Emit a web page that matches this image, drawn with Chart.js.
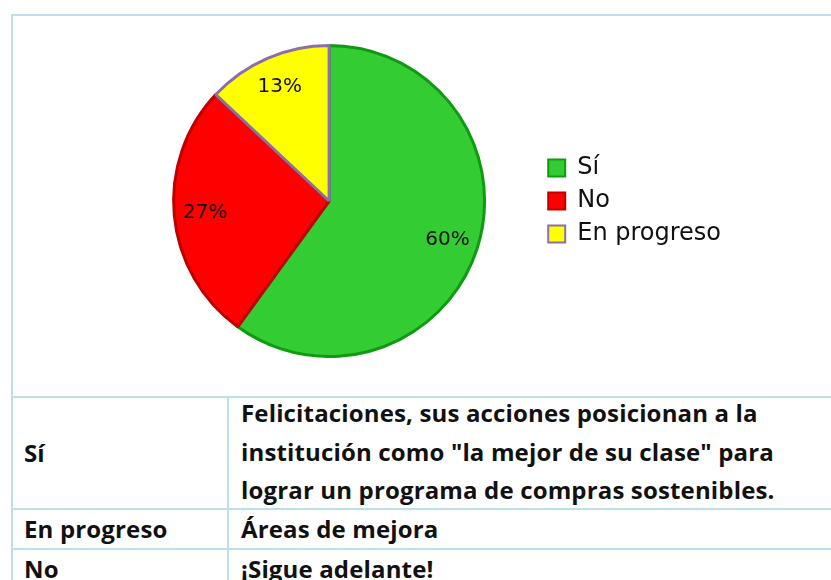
<!DOCTYPE html>
<html>
<head>
<meta charset="utf-8">
<script src="https://cdn.jsdelivr.net/npm/chart.js@4.4.0/dist/chart.umd.min.js"></script>
<style>
  body { margin: 0; background: #fff; width: 831px; height: 580px; overflow: hidden; position: relative; }
  table.grid { position: absolute; left: 11px; top: 14px; border-collapse: separate; border-spacing: 0;
    border-top: 2px solid #bcdfe9; border-left: 2px solid #bcdfe9; table-layout: fixed; width: 860px; }
  table.grid td { border-right: 2px solid #bcdfe9; border-bottom: 2px solid #bcdfe9; padding: 0 11px;
    font-family: "Open Sans", Arial, sans-serif; font-weight: bold; font-size: 24px; letter-spacing: 0.15px;
    color: #111; vertical-align: middle; line-height: 38px; overflow: visible; }
  .multi { height: 110px; position: relative; }
  .multi span { position: absolute; left: 0; top: -4px; line-height: 38.5px; white-space: nowrap; }
  #box { position: absolute; left: 119px; top: 44px; width: 612px; height: 314px; }
</style>
</head>
<body>
<table class="grid">
  <colgroup><col style="width:216px"><col></colgroup>
  <tr><td colspan="2" style="height:380px"></td></tr>
  <tr><td style="height:110px">Sí</td><td style="padding-left:12px"><div class="multi"><span>Felicitaciones, sus acciones posicionan a la<br>institución como "la mejor de su clase" para<br>lograr un programa de compras sostenibles.</span></div></td></tr>
  <tr><td style="height:38px">En progreso</td><td style="padding-left:12px">Áreas de mejora</td></tr>
  <tr><td style="height:38px">No</td><td style="padding-left:12px">¡Sigue adelante!</td></tr>
</table>
<div id="box"><canvas id="myChart"></canvas></div>
<script>
var categories = ['Sí', 'No', 'En progreso'];
var values = [60, 27, 13];
var fillColors = ['#33cc33', '#ff0000', '#ffff00'];
var lineColors = ['#119911', '#c00000', '#8b6fa8'];

var sliceLabels = {
  id: 'sliceLabels',
  afterDatasetsDraw: function(chart) {
    var ctx = chart.ctx;
    var meta = chart.getDatasetMeta(0);
    ctx.save();
    ctx.font = '20px "DejaVu Sans", sans-serif';
    ctx.fillStyle = '#111';
    ctx.textAlign = 'center';
    ctx.textBaseline = 'middle';
    meta.data.forEach(function(arc, i) {
      var p = arc.getProps(['x', 'y', 'startAngle', 'endAngle', 'outerRadius'], true);
      var mid = (p.startAngle + p.endAngle) / 2;
      var r = p.outerRadius * 0.8;
      ctx.fillText(values[i] + '%', p.x + Math.cos(mid) * r, p.y + Math.sin(mid) * r);
    });
    ctx.restore();
  }
};

var ctx = document.getElementById('myChart');
var myChart = new Chart(ctx, {
  type: 'pie',
  data: {
    labels: categories,
    datasets: [{
      data: values,
      backgroundColor: fillColors,
      borderColor: lineColors,
      borderWidth: 3
    }]
  },
  options: {
    responsive: true,
    maintainAspectRatio: false,
    animation: false,
    layout: { padding: 0 },
    plugins: {
      tooltip: { enabled: false },
      legend: {
        position: 'right',
        labels: {
          boxWidth: 17,
          boxHeight: 17,
          padding: 9,
          color: '#111',
          font: { family: '"DejaVu Sans", sans-serif', size: 24 },
          generateLabels: function(chart) {
            var items = Chart.controllers.pie.overrides.plugins.legend.labels.generateLabels(chart);
            items.forEach(function(it) { it.lineWidth = 2; });
            return items;
          }
        }
      }
    }
  },
  plugins: [sliceLabels]
});
</script>
</body>
</html>
